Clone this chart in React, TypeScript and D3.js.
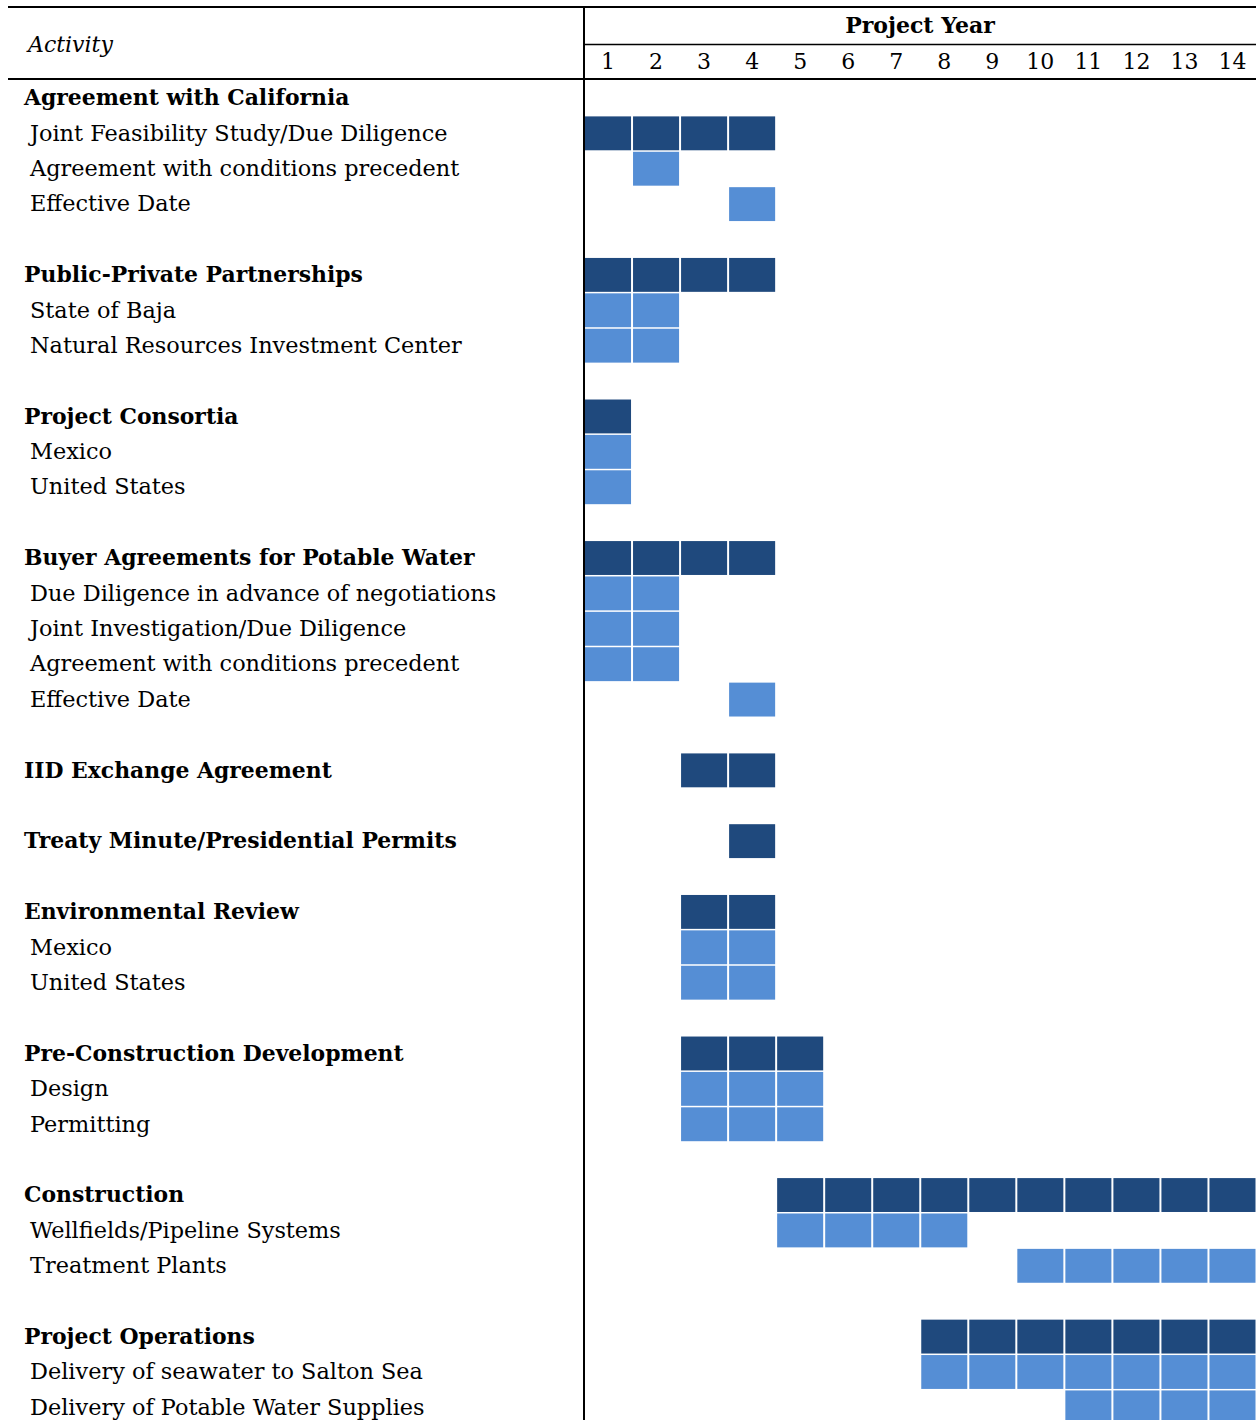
import React from 'react';
import * as d3 from 'd3';

// Rows of the schedule, top to bottom ('' = blank spacer row)
const labels = [
  'Agreement with California', 'Joint Feasibility Study/Due Diligence', 'Agreement with conditions precedent', 'Effective Date', '',
  'Public-Private Partnerships', 'State of Baja', 'Natural Resources Investment Center', '',
  'Project Consortia', 'Mexico', 'United States', '',
  'Buyer Agreements for Potable Water', 'Due Diligence in advance of negotiations', 'Joint Investigation/Due Diligence', 'Agreement with conditions precedent', 'Effective Date', '',
  'IID Exchange Agreement', '',
  'Treaty Minute/Presidential Permits', '',
  'Environmental Review', 'Mexico', 'United States', '',
  'Pre-Construction Development', 'Design', 'Permitting', '',
  'Construction', 'Wellfields/Pipeline Systems', 'Treatment Plants', '',
  'Project Operations', 'Delivery of seawater to Salton Sea', 'Delivery of Potable Water Supplies',
];
// 'h' = heading, 's' = sub item, '' = spacer
const kinds = [
  'h', 's', 's', 's', '',
  'h', 's', 's', '',
  'h', 's', 's', '',
  'h', 's', 's', 's', 's', '',
  'h', '',
  'h', '',
  'h', 's', 's', '',
  'h', 's', 's', '',
  'h', 's', 's', '',
  'h', 's', 's',
];
// bar start / end project year (0 = no bar) and shade ('d' dark, 'l' light)
const starts = [0, 1, 2, 4, 0, 1, 1, 1, 0, 1, 1, 1, 0, 1, 1, 1, 1, 4, 0, 3, 0, 4, 0, 3, 3, 3, 0, 3, 3, 3, 0, 5, 5, 10, 0, 8, 8, 11];
const ends = [0, 4, 2, 4, 0, 4, 2, 2, 0, 1, 1, 1, 0, 4, 2, 2, 2, 4, 0, 4, 0, 4, 0, 4, 4, 4, 0, 5, 5, 5, 0, 14, 8, 14, 0, 14, 14, 14];
const shades = ['', 'd', 'l', 'l', '', 'd', 'l', 'l', '', 'd', 'l', 'l', '', 'd', 'l', 'l', 'l', 'l', '', 'd', '', 'd', '', 'd', 'l', 'l', '', 'd', 'l', 'l', '', 'd', 'l', 'l', '', 'd', 'l', 'l'];
const years = d3.range(1, 15).map(String);

const W = 1256;
const H = 1420;
const gridLeft = 584;
const bodyTop = 80;
const rowH = 35.39;
const dark = '#1f497d';
const light = '#558ed5';
const font = '"DejaVu Serif", serif';

const App: React.FC = () => {
  const x = d3.scaleBand().domain(years).range([gridLeft, W + 0.5]);
  const y = d3.scaleBand<number>()
    .domain(d3.range(labels.length))
    .range([bodyTop, bodyTop + rowH * labels.length]);

  const cells: { row: number; yr: string; fill: string }[] = [];
  starts.forEach((s, i) => {
    if (!s) return;
    for (let yr = s; yr <= ends[i]; yr++) {
      cells.push({ row: i, yr: String(yr), fill: shades[i] === 'd' ? dark : light });
    }
  });

  return (
    <svg width={W} height={H} style={{ position: 'absolute', left: 0, top: 0, background: '#fff' }}>
      {/* bars */}
      {cells.map((c, k) => (
        <rect key={k}
          x={(x(c.yr) as number) + 1}
          y={(y(c.row) as number) + 1}
          width={x.bandwidth() - 2}
          height={y.bandwidth() - 1.5}
          fill={c.fill} />
      ))}

      {/* table rules */}
      <line x1={8} x2={W} y1={7} y2={7} stroke="#000" strokeWidth={2} />
      <line x1={8} x2={W} y1={79} y2={79} stroke="#000" strokeWidth={2} />
      <line x1={gridLeft} x2={W} y1={44.5} y2={44.5} stroke="#000" strokeWidth={1.5} />
      <line x1={gridLeft} x2={gridLeft} y1={6} y2={H} stroke="#000" strokeWidth={2} />

      {/* header */}
      <text x={28} y={46} fontFamily={font} fontStyle="italic" fontSize={22} dominantBaseline="middle">Activity</text>
      <text x={(gridLeft + W) / 2} y={27} fontFamily={font} fontWeight="bold" fontSize={22}
        textAnchor="middle" dominantBaseline="middle">Project Year</text>
      {years.map(yr => (
        <text key={yr} x={(x(yr) as number) + x.bandwidth() / 2} y={63} fontFamily={font} fontSize={22}
          textAnchor="middle" dominantBaseline="middle">{yr}</text>
      ))}

      {/* activity labels */}
      {labels.map((t, i) => t && (
        <text key={i}
          x={kinds[i] === 'h' ? 24 : 30}
          y={(y(i) as number) + y.bandwidth() / 2 + 1.5}
          fontFamily={font}
          fontWeight={kinds[i] === 'h' ? 'bold' : 'normal'}
          fontSize={kinds[i] === 'h' ? 21.9 : 22.4}
          dominantBaseline="middle">{t}</text>
      ))}
    </svg>
  );
};

export default App;
